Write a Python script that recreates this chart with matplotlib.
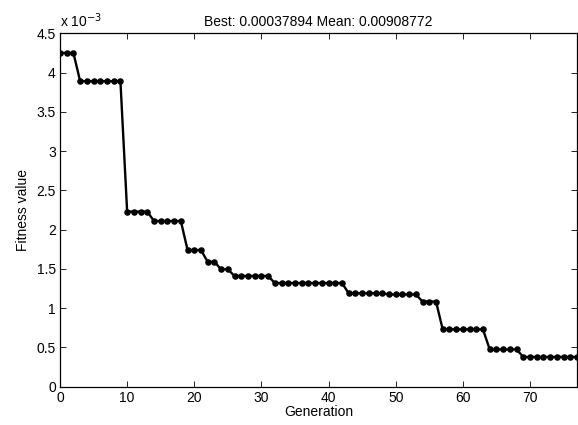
import matplotlib
matplotlib.use("Agg")
import matplotlib.pyplot as plt

plt.rcParams['font.family'] = ['Liberation Sans', 'DejaVu Sans']

# best fitness per generation (units of 1e-3)
generation = list(range(78))
best_fitness = [4.25, 4.25, 4.25,
                3.89, 3.89, 3.89, 3.89, 3.89, 3.89, 3.89,
                2.23, 2.23, 2.23, 2.23,
                2.11, 2.11, 2.11, 2.11, 2.11,
                1.74, 1.74, 1.74,
                1.59, 1.59,
                1.495, 1.495,
                1.41, 1.41, 1.41, 1.41, 1.41, 1.41,
                1.32, 1.32, 1.32, 1.32, 1.32, 1.32, 1.32, 1.32, 1.32, 1.32, 1.32,
                1.19, 1.19, 1.19, 1.19, 1.19, 1.19,
                1.175, 1.175, 1.175, 1.175, 1.175,
                1.085, 1.085, 1.085,
                0.73, 0.73, 0.73, 0.73, 0.73, 0.73, 0.73,
                0.475, 0.475, 0.475, 0.475, 0.475,
                0.379, 0.379, 0.379, 0.379, 0.379, 0.379, 0.379, 0.379, 0.379]
x_ticks = [0, 10, 20, 30, 40, 50, 60, 70]
y_ticks = [0, 0.5, 1, 1.5, 2, 2.5, 3, 3.5, 4, 4.5]
y_ticklabels = ['0', '0.5', '1', '1.5', '2', '2.5', '3', '3.5', '4', '4.5']
title_text = "Best: 0.00037894 Mean: 0.00908772"

fs = 10
fig = plt.figure(figsize=(5.78, 4.25), dpi=100)
ax = fig.add_axes([60/578, 0.09, 517/578, 0.8316])

ax.plot(generation, best_fitness, color='black', lw=1.7, marker='o', ms=3.7)

ax.set_xlim(0, 77)
ax.set_ylim(0, 4.5)
ax.set_xticks(x_ticks)
ax.set_yticks(y_ticks)
ax.set_yticklabels(y_ticklabels)
ax.tick_params(direction='in', top=True, right=True, length=4, labelsize=fs, width=0.6, pad=3)
for s in ax.spines.values():
    s.set_linewidth(0.9)

ax.set_title(title_text, fontsize=fs, pad=5)
ax.set_xlabel("Generation", fontsize=fs, labelpad=0)
ax.set_ylabel("Fitness value", fontsize=fs, labelpad=5)
# exponent label top left, matlab style
ax.text(0, 1.008, r'x 10$^{-3}$', transform=ax.transAxes, fontsize=fs, va='bottom', ha='left')

fig.savefig("out.png", dpi=100)
